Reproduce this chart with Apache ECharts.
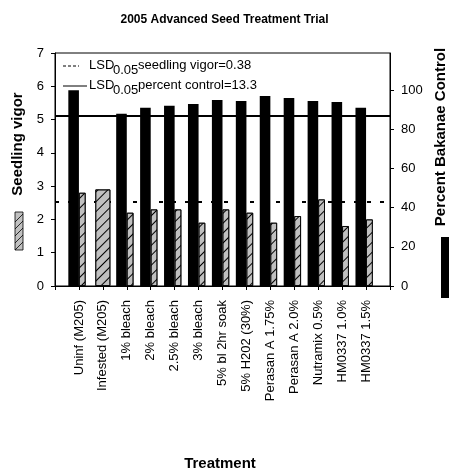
<!DOCTYPE html>
<html>
<head>
<meta charset="utf-8">
<script src="https://cdn.jsdelivr.net/npm/echarts@6/dist/echarts.min.js"></script>
<style>
html,body{margin:0;padding:0;background:#fff;}
#chart{width:449px;height:476px;}
</style>
</head>
<body>
<div id="chart"></div>
<script>
// ---- data ----
var categories = ['Uninf (M205)', 'Infested (M205)', '1% bleach', '2% bleach', '2.5% bleach', '3% bleach',
  '5% bl 2hr soak', '5% H202 (30%)', 'Perasan A 1.75%', 'Perasan A 2.0%', 'Nutramix 0.5%', 'HM0337 1.0%', 'HM0337 1.5%'];
var percentControl = [100, null, 88, 91, 92, 93, 95, 94.5, 97, 96, 94.5, 94, 91];
var seedlingVigor = [2.8, 2.9, 2.2, 2.3, 2.3, 1.9, 2.3, 2.2, 1.9, 2.1, 2.6, 1.8, 2.0];
var lsdVigor = 0.38;
var lsdControl = 13.3;
var leftTicks = [0, 1, 2, 3, 4, 5, 6, 7];
var rightTicks = [0, 20, 40, 60, 80, 100];

// reference levels: check minus LSD
var vigorRef = seedlingVigor[1] - lsdVigor;      // infested check
var controlRef = percentControl[0] - lsdControl;  // uninfected check

// padded axis (one empty slot each side so labels sit on tick marks)
var axisCats = [''].concat(categories, ['']);
function pad(a) { return [null].concat(a, [null]); }
var ctlData = pad(percentControl);
var vigNarrow = pad(seedlingVigor.map(function (v, i) { return percentControl[i] == null ? null : v; }));
var vigWide = pad(seedlingVigor.map(function (v, i) { return percentControl[i] == null ? v : null; }));

var FONT = 'Liberation Sans, Arial, sans-serif';
var hatch = {
  symbol: 'rect', symbolSize: 1, color: '#000',
  dashArrayX: [1, 0], dashArrayY: [1, 6], rotation: -Math.PI / 4
};
var hatchStyle = { color: '#c0c0c0', borderColor: '#000', borderWidth: 0.8, decal: hatch };

// hatched swatch lines for left axis title legend
var sw = { x: 15, y: 212, w: 8, h: 38 };
var swLines = [];
for (var c = sw.y + sw.w + 2; c <= sw.y + sw.h; c += 7) {
  swLines.push({ type: 'line', shape: { x1: sw.x, y1: c, x2: sw.x + sw.w, y2: c - sw.w },
    style: { stroke: '#000', lineWidth: 0.8 } });
}

var LF = '13px ' + FONT;
var chart = echarts.init(document.getElementById('chart'), null, { renderer: 'canvas' });
chart.setOption({
  backgroundColor: '#fff',
  animation: false,
  textStyle: { fontFamily: FONT, color: '#000' },
  title: {
    text: '2005 Advanced Seed Treatment Trial', left: 'center', top: 9,
    textStyle: { fontFamily: FONT, fontSize: 12, fontWeight: 'bold', color: '#000' }
  },
  grid: { left: 55, right: 59, top: 53, bottom: 190, show: true, borderColor: '#000', borderWidth: 1, containLabel: false },
  xAxis: [{
    type: 'category', data: axisCats, boundaryGap: false,
    axisLine: { lineStyle: { color: '#000', width: 1 } },
    axisTick: { show: true, interval: 0, length: 4, lineStyle: { color: '#000' } },
    axisLabel: { interval: 0, rotate: 90, fontSize: 13, color: '#000', margin: 14, fontFamily: FONT },
    splitLine: { show: false }
  }, {
    type: 'category', data: axisCats, boundaryGap: false, show: false
  }],
  yAxis: [{
    type: 'value', min: 0, max: 7, interval: 1, position: 'left',
    axisLine: { show: true, lineStyle: { color: '#000' } },
    axisTick: { show: true, length: 4, lineStyle: { color: '#000' } },
    axisLabel: { fontSize: 13, color: '#000', margin: 11, fontFamily: FONT },
    splitLine: { show: false }
  }, {
    type: 'value', min: 0, max: 119, position: 'right',
    axisLine: { show: true, lineStyle: { color: '#000' } },
    axisTick: { show: true, length: 4, lineStyle: { color: '#000' }, customValues: rightTicks },
    axisLabel: { fontSize: 13, color: '#000', margin: 11, fontFamily: FONT, customValues: rightTicks },
    splitLine: { show: false }
  }],
  series: [{
    name: 'Percent Bakanae Control', type: 'bar', xAxisIndex: 0, yAxisIndex: 1,
    data: ctlData, barWidth: 10.6, barGap: 0,
    itemStyle: { color: '#000' },
    markLine: {
      silent: true, symbol: 'none', label: { show: false },
      lineStyle: { color: '#000', width: 2, type: 'solid' },
      data: [{ yAxis: controlRef }]
    }
  }, {
    name: 'Seedling vigor', type: 'bar', xAxisIndex: 0, yAxisIndex: 0,
    data: vigNarrow, barWidth: 6.7, barGap: 0,
    itemStyle: hatchStyle,
    markLine: {
      silent: true, symbol: 'none', label: { show: false }, z: 1,
      lineStyle: { color: '#000', width: 2, type: [4, 9] },
      data: [{ yAxis: vigorRef }]
    }
  }, {
    name: 'spacer', type: 'bar', xAxisIndex: 0, yAxisIndex: 0,
    data: [], barWidth: 3.9, barGap: 0
  }, {
    name: 'Seedling vigor (check)', type: 'bar', xAxisIndex: 1, yAxisIndex: 0,
    data: vigWide, barWidth: 15,
    itemStyle: hatchStyle
  }],
  graphic: [
    // legend box entries
    { type: 'line', shape: { x1: 63, y1: 66, x2: 79, y2: 66 }, style: { stroke: '#000', lineWidth: 1, lineDash: [3, 2] } },
    { type: 'text', x: 89, y: 65, style: { text: 'LSD', font: LF, fill: '#000', textVerticalAlign: 'middle' } },
    { type: 'text', x: 113, y: 70, style: { text: '0.05', font: LF, fill: '#000', textVerticalAlign: 'middle' } },
    { type: 'text', x: 138, y: 65, style: { text: 'seedling vigor=0.38', font: LF, fill: '#000', textVerticalAlign: 'middle' } },
    { type: 'line', shape: { x1: 63, y1: 86, x2: 87, y2: 86 }, style: { stroke: '#000', lineWidth: 1 } },
    { type: 'text', x: 89, y: 85, style: { text: 'LSD', font: LF, fill: '#000', textVerticalAlign: 'middle' } },
    { type: 'text', x: 113, y: 90, style: { text: '0.05', font: LF, fill: '#000', textVerticalAlign: 'middle' } },
    { type: 'text', x: 138, y: 85, style: { text: 'percent control=13.3', font: LF, fill: '#000', textVerticalAlign: 'middle' } },
    // axis titles
    { type: 'text', x: 18, y: 144, rotation: Math.PI / 2,
      style: { text: 'Seedling vigor', font: 'bold 15px ' + FONT, fill: '#000', textAlign: 'center', textVerticalAlign: 'middle' } },
    { type: 'text', x: 441, y: 137, rotation: Math.PI / 2,
      style: { text: 'Percent Bakanae Control', font: 'bold 15px ' + FONT, fill: '#000', textAlign: 'center', textVerticalAlign: 'middle' } },
    { type: 'text', x: 220, y: 464,
      style: { text: 'Treatment', font: 'bold 15px ' + FONT, fill: '#000', textAlign: 'center', textVerticalAlign: 'middle' } },
    // swatches
    { type: 'rect', shape: { x: sw.x, y: sw.y, width: sw.w, height: sw.h }, style: { fill: '#c0c0c0', stroke: '#000', lineWidth: 0.8 } },
    { type: 'group', children: swLines },
    { type: 'rect', shape: { x: 441, y: 237, width: 9, height: 61 }, style: { fill: '#000' } }
  ]
});
</script>
</body>
</html>
